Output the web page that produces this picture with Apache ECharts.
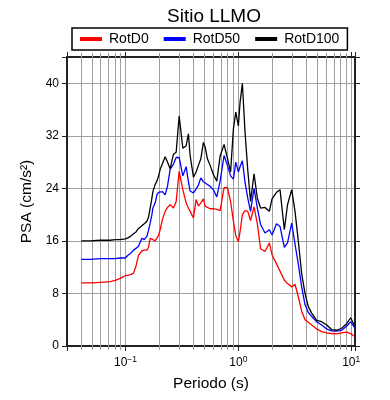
<!DOCTYPE html>
<html>
<head>
<meta charset="utf-8">
<script src="https://cdn.jsdelivr.net/npm/echarts@6/dist/echarts.min.js"></script>
<style>html,body{margin:0;padding:0;background:#fff}#c{width:390px;height:400px}</style>
</head>
<body>
<div id="c"></div>
<script>
const periods = [0.0405,0.0487,0.0597,0.0732,0.0811,0.0898,0.0994,0.1063,0.1123,0.1177,0.1244,0.1303,0.1397,0.1464,0.1546,0.1598,0.1654,0.1713,0.1748,0.1832,0.1896,0.1959,0.2028,0.2126,0.2245,0.2353,0.2486,0.2660,0.2810,0.2987,0.3221,0.3445,0.3609,0.3737,0.3997,0.4222,0.4426,0.4648,0.4901,0.5074,0.5317,0.5618,0.6009,0.6437,0.6888,0.7471,0.7992,0.8531,0.9032,0.9484,1.000,1.035,1.085,1.146,1.211,1.282,1.377,1.473,1.573,1.723,1.881,1.987,2.178,2.339,2.554,2.725,2.969,3.176,3.396,3.640,3.894,4.164,4.463,4.942,5.471,6.059,6.709,7.428,8.222,9.106,9.879,10.78];
const rotD0 = [9.6,9.6,9.7,9.8,10.0,10.3,10.7,10.8,10.9,11.1,12.3,13.8,14.5,14.6,14.6,15.0,16.4,16.2,16.2,16.0,15.9,16.8,17.7,19.3,20.5,21.1,21.5,21.0,22.0,26.6,23.8,21.8,21.0,20.5,19.5,22.3,21.3,21.8,22.4,21.3,21.1,20.9,20.9,20.8,20.6,24.1,24.1,22.0,19.0,16.8,15.9,17.4,20.0,20.6,20.5,19.1,21.2,18.6,14.8,14.4,15.7,13.9,12.5,11.4,10.0,9.5,9.0,9.4,7.5,5.3,4.0,3.6,3.2,2.6,2.2,2.0,1.9,1.85,2.0,2.1,1.9,1.4];
const rotD50 = [13.2,13.2,13.3,13.3,13.3,13.4,13.4,13.9,14.2,14.6,14.9,15.2,16.4,16.2,16.7,17.6,18.7,20.0,21.0,21.8,23.0,23.4,23.6,23.5,23.0,24.3,26.9,27.7,28.7,28.7,25.9,27.3,25.0,23.6,23.3,23.9,24.5,25.6,25.0,24.8,24.6,24.3,23.8,22.7,25.1,29.0,27.5,25.9,25.4,28.0,26.5,27.3,28.2,24.9,22.5,20.5,24.0,21.0,18.5,17.2,17.7,16.9,18.6,18.2,15.0,15.7,18.7,15.5,12.5,9.0,6.3,5.1,4.5,3.7,3.2,2.6,2.3,2.25,2.4,3.0,3.7,2.7];
const rotD100 = [16.0,16.0,16.1,16.1,16.2,16.2,16.3,16.5,16.8,17.1,17.4,17.9,18.3,18.6,19.0,19.6,21.0,22.5,23.5,24.6,25.1,25.8,26.9,27.8,28.8,28.0,27.0,29.2,29.5,35.0,30.1,30.5,32.3,29.0,25.7,26.5,27.5,28.5,31.0,30.3,28.5,27.5,26.1,25.1,28.9,30.7,28.6,26.5,33.0,35.6,33.5,37.1,40.0,32.5,26.8,22.0,26.2,22.5,21.0,21.1,20.5,22.4,23.4,23.8,17.7,21.5,23.8,20.5,16.0,11.0,8.0,6.0,5.0,3.9,3.7,3.2,2.5,2.4,2.7,3.4,4.3,3.0];
const minorPeriods = [0.04,0.05,0.06,0.07,0.08,0.09,0.2,0.3,0.4,0.5,0.6,0.7,0.8,0.9,2,3,4,5,6,7,8,9];
const seriesNames = ['RotD0','RotD50','RotD100'];
const seriesColors = ['#ff0000','#0000ff','#000000'];
const xMin = 0.0303, xMax = 10.8, yMin = 0, yMax = 44, yStep = 8;

const FONT = 'Liberation Sans, Arial, Helvetica, sans-serif';
const chart = echarts.init(document.getElementById('c'), null, {renderer:'canvas'});
const toXY = arr => periods.map((p,i)=>[p, arr[i]]);
const allValues = [rotD0, rotD50, rotD100];

const frame = {show:true, onZero:false, lineStyle:{color:'#222', width:2}};
const option = {
  animation:false,
  backgroundColor:'#fff',
  textStyle:{fontFamily:FONT},
  title:{text:'Sitio LLMO', left:162, top:2, textStyle:{fontFamily:FONT, fontSize:19, fontWeight:'normal', color:'#000'}},
  legend:{
    data:seriesNames, left:72, top:28, padding:[4,8,4,8], itemGap:15, itemWidth:22, itemHeight:4,
    icon:'rect', borderColor:'#000', borderWidth:1.5, selectedMode:false,
    textStyle:{fontFamily:FONT, fontSize:14, color:'#000', padding:[0,0,0,2]}
  },
  grid:{left:67, right:35, top:57, bottom:54, containLabel:false},
  xAxis:[{
    type:'log', logBase:10, min:xMin, max:xMax, position:'bottom',
    name:'Periodo (s)', nameLocation:'middle', nameGap:30,
    nameTextStyle:{fontFamily:FONT, fontSize:15.5, color:'#000'},
    axisLine:frame,
    axisTick:{show:true, inside:false, length:5, lineStyle:{color:'#222'}},
    splitLine:{show:true, lineStyle:{color:'#a0a0a0', width:1}},
    axisLabel:{
      margin:9, color:'#000',
      formatter:function(v){
        const l = Math.log10(v), e = Math.round(l);
        if (Math.abs(l-e) > 1e-6) return '';
        return '{b|10}{s|' + (e<0 ? '\u2212'+(-e) : e) + '}';
      },
      rich:{
        b:{fontFamily:FONT, fontSize:12, color:'#000', verticalAlign:'bottom'},
        s:{fontFamily:FONT, fontSize:8.5, color:'#000', verticalAlign:'top', padding:[0,0,5,0]}
      }
    }
  },{
    type:'log', logBase:10, min:xMin, max:xMax, position:'top',
    axisLine:frame,
    axisTick:{show:true, inside:false, length:5, lineStyle:{color:'#222'}},
    splitLine:{show:false}, axisLabel:{show:false}
  }],
  yAxis:[{
    type:'value', min:yMin, max:yMax, interval:yStep, position:'left',
    name:'PSA (cm/s\u00b2)', nameLocation:'middle', nameGap:31,
    nameTextStyle:{fontFamily:FONT, fontSize:15.5, color:'#000'},
    axisLine:frame,
    axisTick:{show:true, inside:false, length:5, lineStyle:{color:'#222'}},
    splitLine:{show:true, lineStyle:{color:'#a0a0a0', width:1}},
    axisLabel:{fontFamily:FONT, fontSize:12, color:'#000', margin:8,
      formatter:function(v){ return (v % yStep === 0) ? String(v) : ''; }}
  },{
    type:'value', min:yMin, max:yMax, interval:yStep, position:'right',
    axisLine:frame,
    axisTick:{show:true, inside:false, length:5, lineStyle:{color:'#222'}},
    splitLine:{show:false}, axisLabel:{show:false}
  }],
  series:[{
    type:'custom', xAxisIndex:0, yAxisIndex:0, silent:true, clip:false, z:1,
    data:minorPeriods.map(v=>[v, yMin]),
    encode:{x:0, y:1},
    renderItem:function(params, api){
      const v = api.value(0);
      const b = api.coord([v, yMin]);
      const t = api.coord([v, yMax]);
      const x = Math.round(b[0]) + 0.5;
      return {type:'group', children:[
        {type:'line', shape:{x1:x, y1:b[1], x2:x, y2:t[1]}, style:{stroke:'#a0a0a0', lineWidth:1}},
        {type:'line', shape:{x1:x, y1:b[1], x2:x, y2:b[1]+4}, style:{stroke:'#999', lineWidth:1}},
        {type:'line', shape:{x1:x, y1:t[1], x2:x, y2:t[1]-4}, style:{stroke:'#999', lineWidth:1}}
      ]};
    }
  }].concat(seriesNames.map((n,i)=>({
    name:n, type:'line', xAxisIndex:0, yAxisIndex:0, data:toXY(allValues[i]),
    symbol:'none', z:3, lineStyle:{color:seriesColors[i], width:1.3}, itemStyle:{color:seriesColors[i]}
  })))
};
chart.setOption(option);
</script>
</body>
</html>
